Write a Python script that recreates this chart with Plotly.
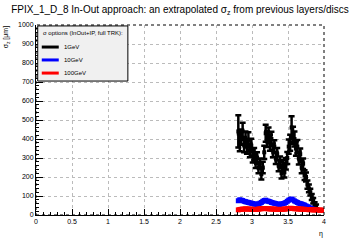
import plotly.graph_objects as go

eta_black = [2.81, 2.83, 2.85, 2.87, 2.89, 2.91, 2.93, 2.95, 2.97, 2.99,
             3.01, 3.03, 3.05, 3.07, 3.09, 3.11, 3.13, 3.15, 3.17, 3.19,
             3.21, 3.23, 3.25, 3.27, 3.29, 3.31, 3.33, 3.35, 3.37, 3.39,
             3.41, 3.43, 3.45, 3.47, 3.49, 3.51, 3.53, 3.55, 3.57, 3.59,
             3.61, 3.63, 3.65, 3.67, 3.69, 3.71, 3.73, 3.75, 3.77, 3.79,
             3.81, 3.83, 3.85, 3.87, 3.89]
sigma_1gev = [440, 380, 410, 440, 370, 400, 360, 395, 340, 365,
              310, 320, 280, 300, 250, 270, 215, 250, 330, 430,
              400, 420, 380, 400, 340, 360, 300, 320, 260, 280,
              220, 260, 225, 270, 300, 360, 380, 460, 420, 400,
              350, 360, 300, 320, 250, 270, 210, 200, 160, 140,
              120, 95, 75, 55, 45]
err_1gev = [85, 45, 40, 45, 40, 40, 38, 40, 36, 36,
            34, 32, 32, 30, 30, 28, 28, 30, 35, 45,
            42, 40, 42, 38, 36, 34, 32, 32, 30, 28,
            28, 30, 28, 30, 32, 38, 42, 60, 45, 40,
            38, 35, 34, 30, 30, 28, 26, 24, 22, 20,
            18, 16, 14, 12, 10]

eta_blue = [2.81, 2.83, 2.85, 2.87, 2.89, 2.91, 2.93, 2.95, 2.97, 2.99,
            3.01, 3.03, 3.05, 3.07, 3.09, 3.11, 3.13, 3.15, 3.17, 3.19,
            3.21, 3.23, 3.25, 3.27, 3.29, 3.31, 3.33, 3.35, 3.37, 3.39,
            3.41, 3.43, 3.45, 3.47, 3.49, 3.51, 3.53, 3.55, 3.57, 3.59,
            3.61, 3.63, 3.65, 3.67, 3.69, 3.71, 3.73, 3.75, 3.77, 3.79,
            3.81, 3.83, 3.85]
sigma_10gev = [75, 80, 78, 76, 72, 70, 68, 66, 64, 62,
               60, 58, 57, 56, 58, 62, 66, 72, 76, 78,
               74, 72, 70, 66, 64, 62, 60, 58, 56, 56,
               58, 60, 62, 66, 72, 78, 82, 84, 80, 74,
               70, 66, 62, 60, 58, 55, 52, 48, 44, 40,
               36, 32, 30]

eta_red = [2.81, 2.83, 2.85, 2.87, 2.89, 2.91, 2.93, 2.95, 2.97, 2.99,
           3.01, 3.03, 3.05, 3.07, 3.09, 3.11, 3.13, 3.15, 3.17, 3.19,
           3.21, 3.23, 3.25, 3.27, 3.29, 3.31, 3.33, 3.35, 3.37, 3.39,
           3.41, 3.43, 3.45, 3.47, 3.49, 3.51, 3.53, 3.55, 3.57, 3.59,
           3.61, 3.63, 3.65, 3.67, 3.69, 3.71, 3.73, 3.75, 3.77, 3.79,
           3.81, 3.83, 3.85, 3.87, 3.89, 3.91, 3.93, 3.95, 3.97, 3.99]
sigma_100gev = [27, 29, 30, 31, 31, 32, 32, 31, 31, 30,
                30, 29, 29, 30, 31, 32, 33, 34, 34, 34,
                33, 33, 32, 32, 31, 31, 30, 30, 29, 29,
                30, 30, 31, 32, 33, 34, 35, 35, 34, 33,
                33, 32, 32, 31, 31, 30, 30, 29, 29, 28,
                28, 28, 27, 27, 27, 26, 26, 26, 25, 25]

legend_title = "σ options (InOut+IP, full TRK):"
series_names = ["1GeV", "10GeV", "100GeV"]
series_colors = ["#000000", "#0000ff", "#ff0000"]

fig = go.Figure()
fig.add_trace(go.Scatter(
    x=eta_black, y=sigma_1gev, mode="markers", name=series_names[0],
    marker=dict(symbol="square", size=4, color=series_colors[0]),
    error_y=dict(type="data", array=err_1gev, color="black", thickness=2.5, width=3),
    showlegend=False))
fig.add_trace(go.Scatter(
    x=eta_blue, y=sigma_10gev, mode="markers", name=series_names[1],
    marker=dict(symbol="square", size=5, color=series_colors[1]),
    showlegend=False))
fig.add_trace(go.Scatter(
    x=eta_red, y=sigma_100gev, mode="markers", name=series_names[2],
    marker=dict(symbol="square", size=5, color=series_colors[2]),
    showlegend=False))

fig.update_layout(
    width=360, height=240,
    margin=dict(l=36, r=36, t=25, b=25),
    paper_bgcolor="white", plot_bgcolor="white",
    font=dict(family="Liberation Sans, Arial, sans-serif", size=7, color="black"),
    title=dict(text="FPIX_1_D_8 In-Out approach: an extrapolated σ<sub>z</sub> from previous layers/discs",
               x=0.5, xanchor="center", y=0.975, yanchor="top",
               font=dict(size=10, color="black")),
    showlegend=False,
)
fig.update_xaxes(range=[0, 4], tickmode="array",
                 tickvals=[0, 0.5, 1, 1.5, 2, 2.5, 3, 3.5, 4],
                 ticktext=["0", "0.5", "1", "1.5", "2", "2.5", "3", "3.5", "4"],
                 ticks="inside", ticklen=6, tickwidth=1, tickcolor="black",
                 minor=dict(dtick=0.1, ticks="inside", ticklen=3, tickcolor="black", showgrid=False),
                 showline=True, linecolor="black", linewidth=1,
                 showgrid=True, gridcolor="#bbbbbb", griddash="dot", gridwidth=1,
                 zeroline=False, tickfont=dict(size=7))
fig.update_yaxes(range=[0, 1000], tickmode="array",
                 tickvals=[0, 100, 200, 300, 400, 500, 600, 700, 800, 900, 1000],
                 ticks="inside", ticklen=7, tickwidth=1, tickcolor="black",
                 minor=dict(dtick=20, ticks="inside", ticklen=3, tickcolor="black", showgrid=False),
                 showline=True, linecolor="black", linewidth=1,
                 showgrid=True, gridcolor="#bbbbbb", griddash="dot", gridwidth=1,
                 zeroline=False, tickfont=dict(size=7))
fig.add_shape(type="rect", xref="paper", yref="paper", x0=0, y0=0, x1=1, y1=1,
              line=dict(color="black", width=1, dash="dot"), layer="above")

# legend box drawn manually (paper coordinates)
fig.add_shape(type="rect", xref="paper", yref="paper", x0=0.006, y0=0.705, x1=0.319, y1=0.995,
              line=dict(color="black", width=1), fillcolor="#f0f0f0", layer="above")
fig.add_annotation(text=legend_title, xref="paper", yref="paper",
                   x=0.018, y=0.958, xanchor="left", yanchor="middle",
                   showarrow=False, font=dict(size=6))
legend_ys = [0.884, 0.816, 0.747]
for name, col, ly in zip(series_names, series_colors, legend_ys):
    fig.add_shape(type="line", xref="paper", yref="paper", x0=0.020, x1=0.079, y0=ly, y1=ly,
                  line=dict(color=col, width=3), layer="above")
    fig.add_annotation(text=name, xref="paper", yref="paper",
                       x=0.091, y=ly, xanchor="left", yanchor="middle",
                       showarrow=False, font=dict(size=6))

fig.add_annotation(text="σ<sub>z</sub> [μm]", xref="paper", yref="paper",
                   x=-0.105, y=1.01, xanchor="center", yanchor="top",
                   textangle=-90, showarrow=False, font=dict(size=7))
fig.add_annotation(text="η", xref="paper", yref="paper",
                   x=0.99, y=-0.07, xanchor="center", yanchor="top",
                   showarrow=False, font=dict(size=7))
fig.write_html("out.html")
